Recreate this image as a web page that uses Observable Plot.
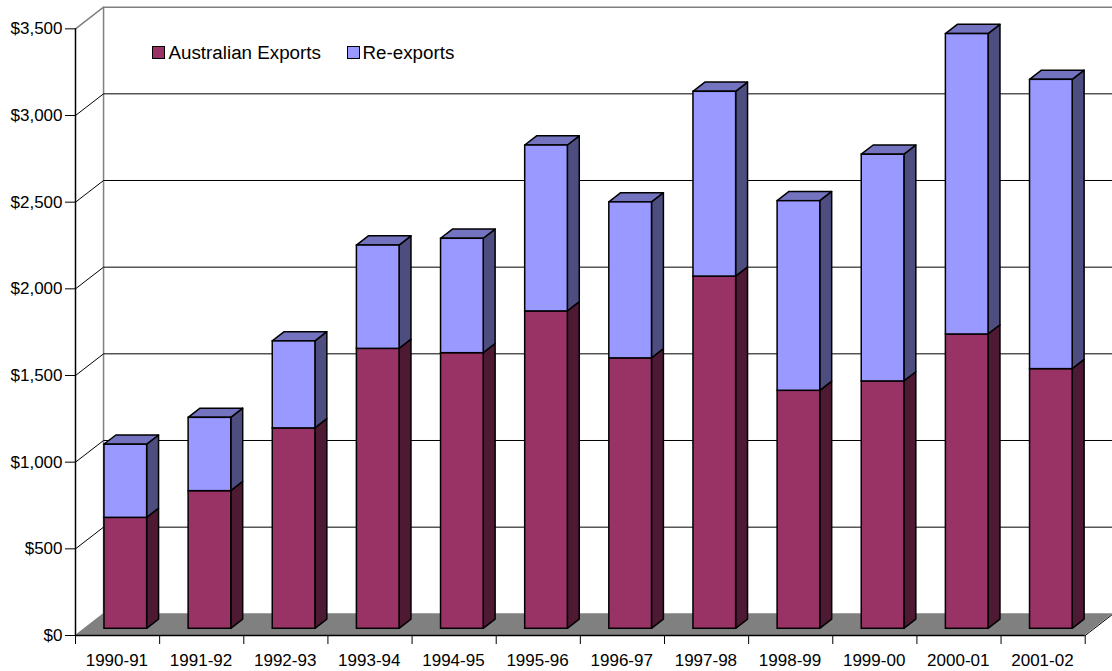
<!DOCTYPE html>
<html><head><meta charset="utf-8">
<script src="https://cdn.jsdelivr.net/npm/d3@7"></script>
<script src="https://cdn.jsdelivr.net/npm/@observablehq/plot@0.6"></script>
<style>
html,body{margin:0;padding:0;background:#fff}
#wrap{position:relative;width:1112px;height:671px;font-family:"Liberation Sans",Arial,sans-serif}
.lg{position:absolute;top:41.5px;font-size:18.8px;line-height:22px;color:#000;white-space:nowrap}
.sw{position:absolute;top:46px;width:10.5px;height:10.5px;border:1.5px solid #000}
</style></head><body><div id="wrap"></div>
<script>
const categories = ["1990-91","1991-92","1992-93","1993-94","1994-95","1995-96","1996-97","1997-98","1998-99","1999-00","2000-01","2001-02"];
const australianExports = [640,794,1156,1615,1590,1831,1560,2032,1373,1427,1698,1498];
const reExports = [422,423,502,596,660,957,900,1066,1094,1308,1733,1669];
const yTicks = [0,500,1000,1500,2000,2500,3000,3500];

// oblique projection: depth 1 is the back wall
const depthX = 1/3, depthY = 125;
const px = (x,d)=>x+d*depthX, py=(v,d)=>v+d*depthY;
const d0 = 0.31, d1 = 0.735, barL = 0.241, barR = 0.748;

const wall = [{x:px(0,0),y:py(0,0),xb:px(0,1),yb:py(0,1)},{x:px(12,0),y:py(0,0),xb:px(12,1),yb:py(0,1)}];
const gridlines = yTicks.slice(1).flatMap(v=>[
  {v,x:0,y:v},{v,x:px(0,1),y:py(v,1)},{v,x:12.33,y:py(v,1)}]);
const segments = categories.flatMap((c,i)=>[
  {i,c,lo:0,hi:australianExports[i],fill:"#993366",side:"#4d1933",top:"#733355"},
  {i,c,lo:australianExports[i],hi:australianExports[i]+reExports[i],fill:"#9999ff",side:"#4d4d80",top:"#7373bf"}]);
const sides = segments.flatMap((s,k)=>[
  {k,fill:s.side,x:px(s.i+barR,d0),y1:py(s.lo,d0),y2:py(s.hi,d0)},
  {k,fill:s.side,x:px(s.i+barR,d1),y1:py(s.lo,d1),y2:py(s.hi,d1)}]);
const tops = segments.filter(s=>s.fill==="#9999ff").flatMap((s,k)=>[
  {k,fill:s.top,x1:px(s.i+barL,d0),y1:py(s.hi,d0),x2:px(s.i+barL,d1),y2:py(s.hi,d1)},
  {k,fill:s.top,x1:px(s.i+barR,d0),y1:py(s.hi,d0),x2:px(s.i+barR,d1),y2:py(s.hi,d1)}]);
const fronts = segments.map(s=>({...s,x1:px(s.i+barL,d0),x2:px(s.i+barR,d0),y1:py(s.lo,d0),y2:py(s.hi,d0)}));
const bounds = d3.range(0,13);

const chart = Plot.plot({
  width:1112,height:671,marginLeft:75,marginRight:27.3,marginTop:28.33,marginBottom:36,
  style:{fontFamily:'"Liberation Sans",Arial,sans-serif',fontSize:"17px",background:"#fff",color:"#000",overflow:"hidden"},
  x:{type:"linear",domain:[0,12]},
  y:{type:"linear",domain:[0,3500]},
  marks:[
    // back wall edge
    Plot.line([{x:px(0,1),y:py(0,1)},{x:px(0,1),y:py(3500,1)}],{x:"x",y:"y",stroke:"#808080",strokeWidth:1.5}),
    // gridlines running across the wall
    Plot.line(gridlines,{x:"x",y:"y",z:"v",stroke:d=>d.v===3500?"#808080":"#000",strokeWidth:d=>d.v===3500?1.5:1}),
    // floor
    Plot.area(wall,{x1:"x",y1:"y",x2:"xb",y2:"yb",fill:"#808080"}),
    Plot.line([{x:px(12,0),y:py(0,0)},{x:px(12,1),y:py(0,1)}],{x:"x",y:"y",stroke:"#000",strokeWidth:1}),
    // bars
    Plot.area(sides,{x1:"x",y1:"y1",y2:"y2",z:"k",fill:"fill",stroke:"#000",strokeWidth:1.5,strokeLinejoin:"round"}),
    Plot.area(tops,{x1:"x1",y1:"y1",x2:"x2",y2:"y2",z:"k",fill:"fill",stroke:"#000",strokeWidth:1.5,strokeLinejoin:"round"}),
    Plot.rect(fronts,{x1:"x1",x2:"x2",y1:"y1",y2:"y2",fill:"fill",stroke:"#000",strokeWidth:1.5}),
    // axes
    Plot.ruleY([0],{stroke:"#000",strokeWidth:1.5}),
    Plot.ruleX([0],{stroke:"#000",strokeWidth:1.5}),
    Plot.ruleX(bounds,{x:d=>d,y1:0,y2:-52,stroke:"#000"}),
    Plot.axisY({ticks:yTicks,tickSize:10,tickPadding:3,tickFormat:d=>"$"+d3.format(",")(d),label:null,stroke:"#000"}),
    Plot.axisX({ticks:d3.range(12).map(i=>i+0.5),tickSize:0,tickPadding:18,dx:-0.7,tickFormat:d=>categories[Math.floor(d)],label:null})
  ]
});
const wrap=document.getElementById("wrap");
wrap.appendChild(chart);
[["Australian Exports","#993366",152,168.5],["Re-exports","#9999ff",347,362.5]].forEach(([t,c,sx,tx])=>{
  const s=document.createElement("div");s.className="sw";s.style.left=sx+"px";s.style.background=c;wrap.appendChild(s);
  const l=document.createElement("div");l.className="lg";l.style.left=tx+"px";l.textContent=t;wrap.appendChild(l);
});
</script></body></html>
